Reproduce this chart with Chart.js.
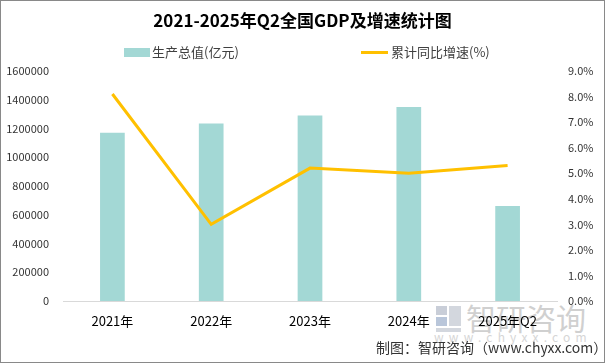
<!DOCTYPE html>
<html><head><meta charset="utf-8">
<script src="https://cdn.jsdelivr.net/npm/chart.js@4.4.1/dist/chart.umd.min.js"></script>
<style>
body{margin:0;background:#fff;}
#wrap{position:relative;width:605px;height:363px;font-family:"Noto Sans CJK SC","Noto Sans",sans-serif;overflow:hidden;}
#c{position:absolute;left:0;top:0;}
.abs{position:absolute;white-space:nowrap;}
#title{left:0;width:605px;top:7px;text-align:center;font-size:17px;font-weight:bold;color:#000;line-height:26px;}
.lg{font-size:13px;color:#404040;line-height:16px;}
#frame{position:absolute;left:0;top:0;width:605px;height:363px;box-sizing:border-box;border:1px solid #898989;pointer-events:none;}
</style></head>
<body>
<div id="wrap">
<div class="abs" style="left:436px;top:306px;width:11px;height:9px;background:#c9ced8;"></div>
<div class="abs" style="left:449px;top:306px;width:12px;height:20px;background:#d3d7de;"></div>
<div class="abs" style="left:436px;top:317px;width:11px;height:9px;background:#b9c6da;"></div>
<div class="abs" style="left:436px;top:328px;width:25px;height:4px;background:#d3d7de;"></div>
<div class="abs" style="left:466px;top:297px;font-size:30px;line-height:40px;color:#d0d0d0;">智研咨询</div>
<div class="abs" style="left:434px;top:330px;font-size:12px;line-height:14px;color:#d6d6d6;letter-spacing:5.2px;">www.chyxx.com</div>
<canvas id="c" width="605" height="363"></canvas>
<div class="abs" id="title">2021-2025年Q2全国GDP及增速统计图</div>
<div class="abs" style="left:124px;top:48px;width:26px;height:9px;background:#a3d8d5;"></div>
<div class="abs lg" style="left:152px;top:44px;">生产总值(亿元)</div>
<div class="abs" style="left:361px;top:51px;width:27px;height:3px;background:#ffc000;"></div>
<div class="abs lg" style="left:391px;top:44px;">累计同比增速(%)</div>
<div class="abs" style="left:376px;top:337px;font-size:14px;line-height:20px;color:#333;">制图：智研咨询（www.chyxx.com）</div>
<div id="frame"></div>
</div>
<script>
const categories = ["2021年","2022年","2023年","2024年","2025年Q2"];
const gdpValues = [1170000, 1234000, 1290000, 1349084, 660536];
const growthValues = [8.1, 3.0, 5.2, 5.0, 5.3];
const gdpLabel = "生产总值(亿元)";
const growthLabel = "累计同比增速(%)";

const fontFam = '"Noto Sans CJK SC","Noto Sans",sans-serif';
new Chart(document.getElementById('c'), {
  type: 'bar',
  data: {
    labels: categories,
    datasets: [
      {type:'line', label: growthLabel, data: growthValues, yAxisID:'y1',
       borderColor:'#ffc000', backgroundColor:'#ffc000', borderWidth:3,
       pointRadius:0, tension:0, order:0},
      {type:'bar', label: gdpLabel, data: gdpValues, yAxisID:'y',
       backgroundColor:'#a3d8d5', categoryPercentage:1, barPercentage:0.25, order:1}
    ]
  },
  options: {
    responsive:false, animation:false, devicePixelRatio:1,
    layout:{padding:{top:71,bottom:0,left:0,right:0}},
    plugins:{legend:{display:false}, tooltip:{enabled:false}},
    scales:{
      x:{grid:{display:false,drawTicks:false}, border:{display:true,color:'#d9d9d9',width:1},
         ticks:{padding:12,color:'#000',font:{family:fontFam,size:13}},
         afterFit:s=>{s.height=62;}},
      y:{position:'left',min:0,max:1600000,grid:{display:false,drawTicks:false},border:{display:false},
         ticks:{stepSize:200000,padding:14,color:'#333',font:{family:fontFam,size:11},callback:v=>String(v)},
         afterFit:s=>{s.width=63;}},
      y1:{position:'right',min:0,max:9,grid:{display:false,drawTicks:false},border:{display:false},
         ticks:{stepSize:1,padding:11,color:'#333',font:{family:fontFam,size:11},callback:v=>v.toFixed(1)+'%'},
         afterFit:s=>{s.width=48;}}
    }
  }
});
</script>
</body></html>
